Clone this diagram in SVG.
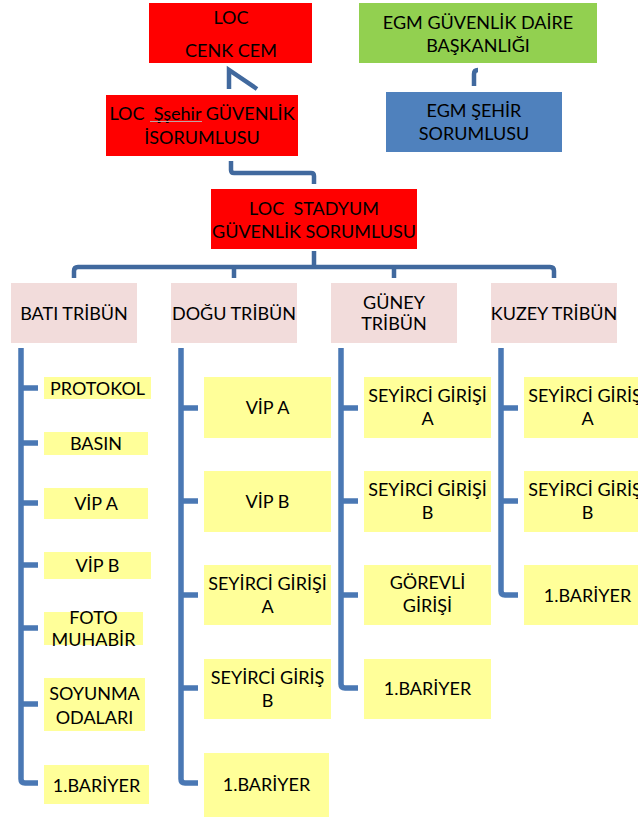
<svg xmlns="http://www.w3.org/2000/svg" width="638" height="817" viewBox="0 0 638 817">
<style>
text{font-family:Lato,"Liberation Sans",sans-serif;font-size:18px;fill:#000;text-anchor:middle;white-space:pre}
.red{fill:#FF0000}
.green{fill:#92D050}
.blue{fill:#4F81BD}
.trib{fill:#F2DCDB}
.leaf{fill:#FFFF99}
.con{fill:none;stroke:#41699E;stroke-width:4.5}
.bar{fill:none;stroke:#4A78B4;stroke-width:5.5;stroke-linejoin:round}
</style>
<rect width="638" height="817" fill="#fff"/>
<g id="connectors">
<path class="con" d="M229,89 V70 L257,89" stroke-linejoin="miter"/>
<path class="con" d="M474,86 V74 Q474,70 478,70"/>
<path class="con" d="M231,161 V170 Q231,173 234,173 H311 Q314,173 314,176 V184"/>
<path class="con" d="M314,251 V267 M74,278 V271 Q74,267 78,267 H550 Q554,267 554,271 V278 M234,267 V278 M394,267 V278" stroke="#4A78B4"/>
<path class="bar" d="M21,348 V779 Q21,783 25,783 H38 M21,388 H38 M21,443 H38 M21,503 H38 M21,565 H38 M21,628 H38 M21,704 H38"/>
<path class="bar" d="M181,348 V779 Q181,783 185,783 H198 M181,408 H198 M181,501 H198 M181,595 H198 M181,688 H198"/>
<path class="bar" d="M341,348 V684 Q341,688 345,688 H358 M341,408 H358 M341,501 H358 M341,595 H358"/>
<path class="bar" d="M501,348 V591 Q501,595 505,595 H518 M501,408 H518 M501,501 H518"/>
</g>
<g id="loc"><rect class="red" x="149" y="3" width="163" height="60"/><text x="231" y="23.5">LOC</text><text x="231" y="56.5">CENK CEM</text></g>
<g id="egm"><rect class="green" x="359" y="3" width="238" height="60"/><text x="478" y="28.5">EGM GÜVENLİK DAİRE</text><text x="478" y="51.5">BAŞKANLIĞI</text></g>
<g id="loc-sehir"><rect class="red" x="106" y="95" width="192" height="61"/><text x="202" y="119.5">LOC  Şşehir GÜVENLİK</text><line x1="150" y1="121.5" x2="202" y2="121.5" stroke="#c0a0a0" stroke-width="1"/><text x="202" y="143.5">İSORUMLUSU</text></g>
<g id="egm-sehir"><rect class="blue" x="386" y="92" width="176" height="60"/><text x="474" y="116.5">EGM ŞEHİR</text><text x="474" y="139.5">SORUMLUSU</text></g>
<g id="stadyum"><rect class="red" x="211" y="189" width="206" height="60"/><text x="314" y="214.5">LOC  STADYUM</text><text x="314" y="237.5">GÜVENLİK SORUMLUSU</text></g>
<g id="bati"><rect class="trib" x="11" y="283" width="126" height="60"/><text x="74" y="319.5">BATI TRİBÜN</text></g>
<g id="dogu"><rect class="trib" x="171" y="283" width="126" height="60"/><text x="234" y="319.5">DOĞU TRİBÜN</text></g>
<g id="guney"><rect class="trib" x="331" y="283" width="126" height="60"/><text x="394" y="308.5">GÜNEY</text><text x="394" y="329.5">TRİBÜN</text></g>
<g id="kuzey"><rect class="trib" x="491" y="283" width="126" height="60"/><text x="554" y="319.5">KUZEY TRİBÜN</text></g>
<g id="bati-protokol"><rect class="leaf" x="44" y="377" width="107" height="22"/><text x="97.5" y="394.5">PROTOKOL</text></g>
<g id="bati-basin"><rect class="leaf" x="44" y="432" width="104" height="23"/><text x="96" y="449.5">BASIN</text></g>
<g id="bati-vipa"><rect class="leaf" x="44" y="488" width="104" height="31"/><text x="96" y="509.5">VİP A</text></g>
<g id="bati-vipb"><rect class="leaf" x="44" y="552" width="107" height="27"/><text x="97.5" y="571.5">VİP B</text></g>
<g id="bati-foto"><rect class="leaf" x="44" y="612" width="99" height="33"/><text x="93.5" y="623.5">FOTO</text><text x="93.5" y="645.5">MUHABİR</text></g>
<g id="bati-soyunma"><rect class="leaf" x="44" y="678" width="101" height="53"/><text x="94.5" y="699.5">SOYUNMA</text><text x="94.5" y="723.5">ODALARI</text></g>
<g id="bati-bariyer"><rect class="leaf" x="44" y="765" width="105" height="39"/><text x="96.5" y="791.5">1.BARİYER</text></g>
<g id="dogu-vipa"><rect class="leaf" x="204" y="377" width="127" height="61"/><text x="267.5" y="413.5">VİP A</text></g>
<g id="dogu-vipb"><rect class="leaf" x="204" y="471" width="127" height="61"/><text x="267.5" y="507.5">VİP B</text></g>
<g id="dogu-seyircia"><rect class="leaf" x="204" y="565" width="127" height="60"/><text x="267.5" y="589.5">SEYİRCİ GİRİŞİ</text><text x="267.5" y="613">A</text></g>
<g id="dogu-seyircib"><rect class="leaf" x="204" y="659" width="127" height="60"/><text x="267.5" y="683.5">SEYİRCİ GİRİŞ</text><text x="267.5" y="706.5">B</text></g>
<g id="dogu-bariyer"><rect class="leaf" x="204" y="753" width="125" height="64"/><text x="266.5" y="790.5">1.BARİYER</text></g>
<g id="guney-seyircia"><rect class="leaf" x="364" y="377" width="127" height="61"/><text x="427.5" y="401.5">SEYİRCİ GİRİŞİ</text><text x="427.5" y="424.5">A</text></g>
<g id="guney-seyircib"><rect class="leaf" x="364" y="471" width="127" height="61"/><text x="427.5" y="495.5">SEYİRCİ GİRİŞİ</text><text x="427.5" y="518.5">B</text></g>
<g id="guney-gorevli"><rect class="leaf" x="364" y="565" width="127" height="60"/><text x="427.5" y="588.5">GÖREVLİ</text><text x="427.5" y="611.5">GİRİŞİ</text></g>
<g id="guney-bariyer"><rect class="leaf" x="364" y="659" width="127" height="60"/><text x="427.5" y="694.5">1.BARİYER</text></g>
<g id="kuzey-seyircia"><rect class="leaf" x="524" y="377" width="127" height="61"/><text x="587.5" y="401.5">SEYİRCİ GİRİŞİ</text><text x="587.5" y="424.5">A</text></g>
<g id="kuzey-seyircib"><rect class="leaf" x="524" y="471" width="127" height="61"/><text x="587.5" y="495.5">SEYİRCİ GİRİŞİ</text><text x="587.5" y="518.5">B</text></g>
<g id="kuzey-bariyer"><rect class="leaf" x="524" y="565" width="127" height="60"/><text x="587.5" y="601.5">1.BARİYER</text></g>
</svg>
